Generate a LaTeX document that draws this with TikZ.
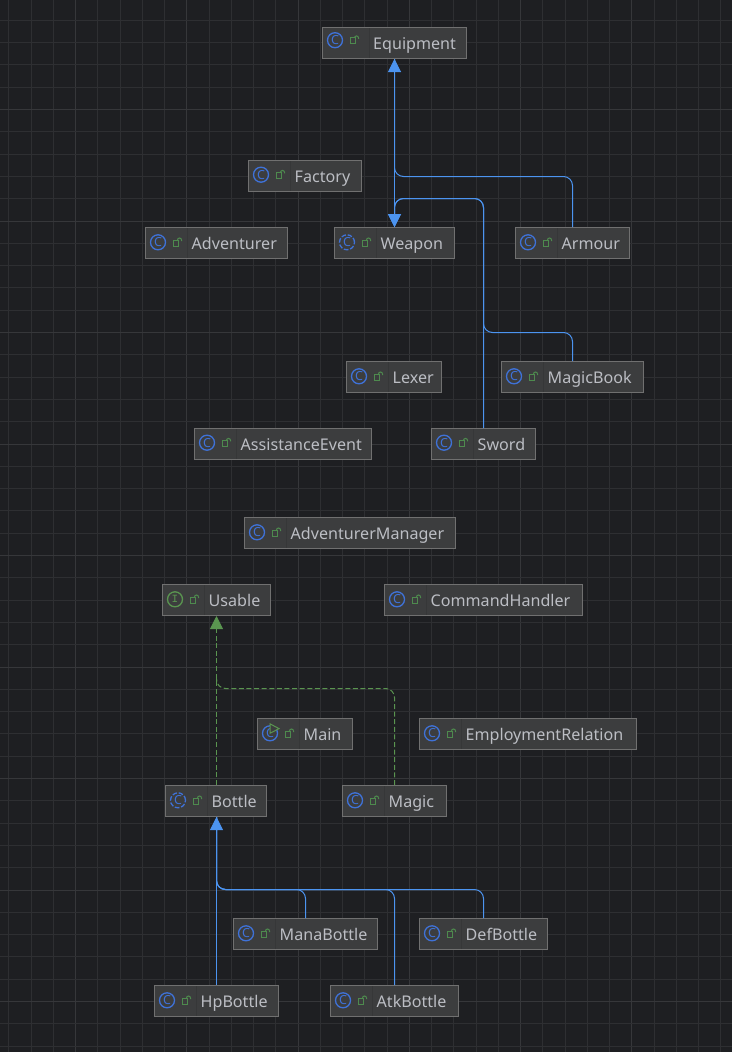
\documentclass[tikz,border=0pt]{standalone}
\usepackage{fontspec}
\setmainfont{Noto Sans}
\newfontfamily\ifacefont{Liberation Mono}
\usetikzlibrary{arrows.meta}
\definecolor{canvasbg}{HTML}{1E1F22}
\definecolor{gridminor}{HTML}{2E2F32}
\definecolor{gridmajor}{HTML}{36373A}
\definecolor{boxfill}{HTML}{3C3D3E}
\definecolor{boxline}{HTML}{707070}
\definecolor{boxsep}{HTML}{363738}
\definecolor{labeltext}{HTML}{BCBEC4}
\definecolor{classblue}{HTML}{3F72D8}
\definecolor{linkblue}{HTML}{4C94F0}
\definecolor{linkgreen}{HTML}{5A9550}
\definecolor{lockgreen}{HTML}{4E8A4E}
\tikzset{
  classbox/.style={draw=boxline, fill=boxfill, line width=1pt, anchor=west, minimum height=31pt, inner sep=0pt},
  classname/.style={anchor=base west, inner sep=0pt, text=labeltext, font=\fontsize{16.1}{18}\selectfont},
  % icon kinds
  iconbase/.style={circle, line width=1.3pt, minimum size=15pt, inner sep=0pt, font=\fontsize{12.5}{12.5}\selectfont},
  iconplain/.style={iconbase, draw=classblue, text=classblue},
  iconabstract/.style={iconbase, draw=classblue, text=classblue, dash pattern=on 4.6pt off 1.8pt},
  iconmain/.style={iconbase, draw=classblue, text=classblue},
  iconiface/.style={iconbase, draw=linkgreen, text=linkgreen, font=\ifacefont\fontsize{11}{11}\selectfont},
  lockicon/.style={draw=lockgreen, line width=1pt},
  extends/.style={draw=linkblue, line width=1pt, rounded corners=9pt},
  extendshead/.style={extends, -{Triangle[width=13pt, length=13pt, fill=linkblue]}},
  implements/.style={draw=linkgreen, line width=1pt, dash pattern=on 5pt off 2.6pt, rounded corners=9pt},
  implementshead/.style={implements, -{Triangle[width=13pt, length=13pt, fill=linkgreen]}}
}
\begin{document}
\begin{tikzpicture}[x=1pt, y=-1pt]
    \useasboundingbox[fill=canvasbg] (0,0) rectangle (732,1052);

    % Grid
    \foreach \ii in {0,...,32} {
        \pgfmathsetmacro{\gx}{floor(8.8+22.25*\ii)+0.5}
        \pgfmathparse{int(mod(\ii,5))}
        \ifnum\pgfmathresult=3 \def\gc{gridmajor}\else\def\gc{gridminor}\fi
        \draw[\gc, line width=1pt] (\gx,0) -- (\gx,1052);
    }
    \foreach \ii in {0,...,46} {
        \pgfmathsetmacro{\gy}{floor(20.3+22.3*\ii)+0.5}
        \pgfmathparse{int(mod(\ii,5))}
        \ifnum\pgfmathresult=4 \def\gc{gridmajor}\else\def\gc{gridminor}\fi
        \draw[\gc, line width=1pt] (0,\gy) -- (732,\gy);
    }

    % Class boxes: name/left/right/centre y/icon style/letter/separator/icon lift
    \foreach \nm/\lx/\rx/\cy/\ic/\gl/\sep/\dy in {
        Equipment/322/467/43/iconplain/C/47/2.8,
        Factory/248/362/176/iconplain/C/42.5/1.3,
        Adventurer/145/288/243/iconplain/C/42.5/0.7,
        Weapon/334/455/243/iconabstract/C/42.5/0.7,
        Armour/515/630/243/iconplain/C/42.5/0.7,
        Lexer/346/442/377/iconplain/C/42.5/0.7,
        MagicBook/501/644/377/iconplain/C/42.5/0.7,
        AssistanceEvent/194/372/444/iconplain/C/42.5/1.3,
        Sword/431/536/444/iconplain/C/42.5/1.3,
        AdventurerManager/244/456/533/iconplain/C/42.5/0.7,
        Usable/162/271/600/iconiface/I/42.5/0.7,
        CommandHandler/384/583/600/iconplain/C/42.5/0.7,
        Main/257/353/734/iconmain/C/42.5/0.7,
        EmploymentRelation/419/637/734/iconplain/C/42.5/0.7,
        Bottle/165/267/801/iconabstract/C/42.5/0.7,
        Magic/342/447/801/iconplain/C/42.5/0.7,
        ManaBottle/233/378/934/iconplain/C/42.5/0.7,
        DefBottle/419/548/934/iconplain/C/42.5/0.7,
        HpBottle/154/279/1001/iconplain/C/42.5/0.7,
        AtkBottle/330/459/1001/iconplain/C/42.5/0.7} {
        \pgfmathsetmacro{\bw}{\rx-\lx-1}
        \pgfmathsetmacro{\tx}{\sep+4}
        \node[classbox, minimum width=\bw pt] (\nm) at (\lx,\cy) {};
        \draw[boxsep, line width=0.8pt] ([xshift=\sep pt, yshift=-15pt]\nm.west) -- ([xshift=\sep pt, yshift=15pt]\nm.west);
        \node[\ic] (\nm Icon) at ([xshift=13pt, yshift=\dy pt]\nm.west) {\gl};
        \node[classname] (\nm Name) at ([xshift=\tx pt, yshift=-6pt]\nm.west) {\nm};
        % lock
        \draw[lockicon] ([xshift=15pt, yshift=2.3pt]\nm Icon.center) rectangle ([xshift=20pt, yshift=-3.7pt]\nm Icon.center);
        \draw[lockicon] ([xshift=19.5pt, yshift=2.3pt]\nm Icon.center) arc[start angle=180, end angle=0, radius=2pt] -- ++(0,1);
    }
    % play mark of the runnable class
    \draw[linkgreen, line width=1pt, fill=boxfill] ([yshift=9.5pt]MainIcon.center) -- ([xshift=9pt, yshift=4.7pt]MainIcon.center) -- (MainIcon.center) -- cycle;

    % Lanes of the connectors
    \coordinate (armourlane) at (Equipment.south |- 0,176.5);
    \coordinate (swordlane) at (Weapon.north |- 0,198.5);
    \coordinate (magiclane) at (Sword.north |- 0,332.5);
    \coordinate (magicjoin) at (Sword.north |- 0,198.5);
    \coordinate (usablelane) at (Usable.south |- 0,688.5);
    \coordinate (usablejoin) at (Usable.south |- 0,679);
    \coordinate (bottlelane) at (HpBottle.north |- 0,889.5);
    \coordinate (bottlefoot) at (HpBottle.north |- Bottle.south);
    \coordinate (usablefoot) at (Usable.south |- Bottle.north);

    % Inheritance
    \draw[extendshead] (Weapon.north) -- (Equipment.south);
    \draw[extends] (Armour.north) |- (armourlane) -- (Equipment.south);
    \draw[extendshead] (Sword.north) |- (swordlane) -- (Weapon.north);
    \draw[extendshead] (MagicBook.north) |- (magiclane) -- (magicjoin) -- (swordlane) -- (Weapon.north);
    \draw[extendshead] (HpBottle.north) -- (bottlefoot);
    \draw[extends] (ManaBottle.north) |- (bottlelane) -- (bottlefoot);
    \draw[extends] (AtkBottle.north) |- (bottlelane) -- (bottlefoot);
    \draw[extends] (DefBottle.north) |- (bottlelane) -- (bottlefoot);

    % Implementation
    \draw[implementshead] (usablefoot) -- (Usable.south);
    \draw[implements] (Magic.north) |- (usablelane) -- (usablejoin);
\end{tikzpicture}
\end{document}
